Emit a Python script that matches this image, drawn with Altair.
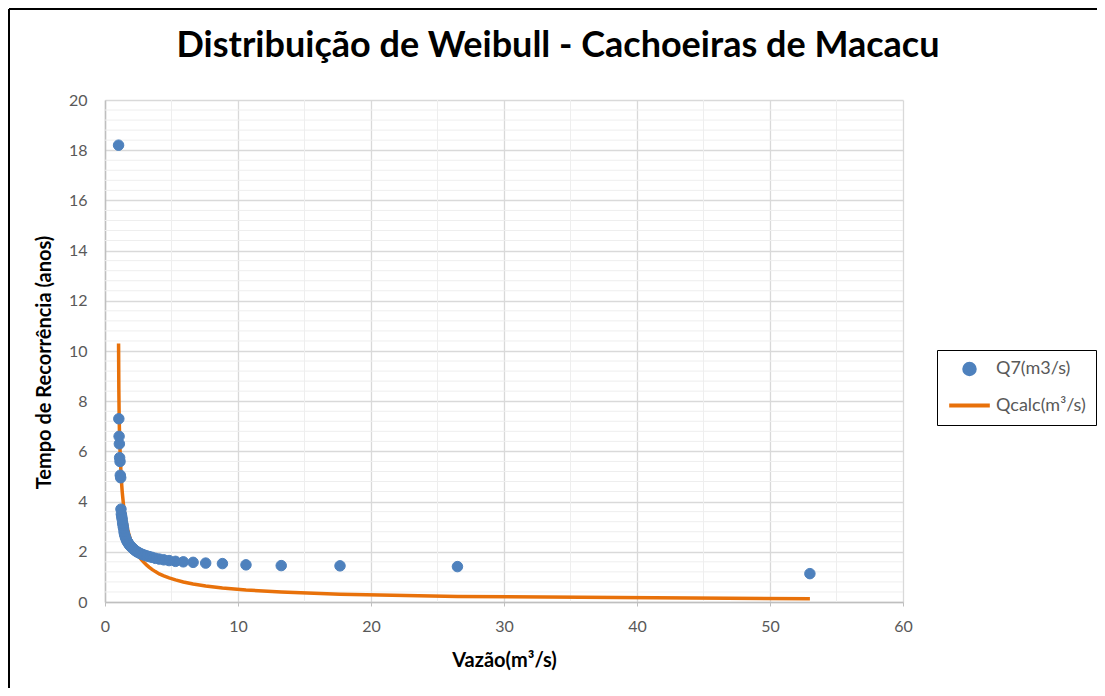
import altair as alt
import pandas as pd

# Tempo de recorrência (Weibull) and observed / calculated flows
T = [53.0, 26.5, 17.67, 13.25, 10.6, 8.83, 7.57, 6.625, 5.89, 5.3,
     4.82, 4.42, 4.08, 3.79, 3.53, 3.31, 3.12, 2.94, 2.79, 2.65,
     2.52, 2.41, 2.30, 2.21, 2.12, 2.04, 1.96, 1.89, 1.83, 1.77,
     1.71, 1.66, 1.61, 1.56, 1.51, 1.47, 1.43, 1.39, 1.36, 1.325,
     1.29, 1.26, 1.23, 1.20, 1.18, 1.15, 1.13, 1.10, 1.08, 1.06,
     1.04, 1.02]
Q7 = [1.13, 1.41, 1.44, 1.45, 1.48, 1.53, 1.55, 1.58, 1.60, 1.62,
      1.65, 1.68, 1.71, 1.74, 1.78, 1.81, 1.84, 1.87, 1.90, 1.93,
      1.97, 2.00, 2.04, 2.08, 2.12, 2.16, 2.20, 2.24, 2.28, 2.33,
      2.38, 2.42, 2.48, 2.55, 2.62, 2.70, 2.80, 2.95, 3.05, 3.15,
      3.30, 3.40, 3.50, 3.70, 4.95, 5.05, 5.60, 5.75, 6.30, 6.60,
      7.30, 18.2]
Qcalc = [0.13, 0.22, 0.31, 0.40, 0.48, 0.56, 0.64, 0.72, 0.80, 0.88,
         0.96, 1.04, 1.12, 1.21, 1.30, 1.39, 1.48, 1.57, 1.66, 1.75,
         1.84, 1.93, 2.02, 2.12, 2.22, 2.32, 2.42, 2.53, 2.64, 2.75,
         2.87, 3.00, 3.13, 3.26, 3.40, 3.55, 3.70, 3.87, 4.04, 4.22,
         4.42, 4.64, 4.87, 5.12, 5.40, 5.70, 6.05, 6.47, 6.97, 7.60,
         8.50, 10.3]

series_names = ["Q7(m3/s)", "Qcalc(m³/s)"]
blue = "#4e81bd"
orange = "#e8710a"

df_pts = pd.DataFrame({"T": T, "Q": Q7, "serie": series_names[0]})
df_line = pd.DataFrame({"T": T, "Q": Qcalc, "serie": series_names[1]})

FONT = "Lato"
W, H = 798, 502

xscale = alt.Scale(domain=[0, 60], nice=False)
yscale = alt.Scale(domain=[0, 20], nice=False)

# minor grid
minor_x = pd.DataFrame({"v": [5, 15, 25, 35, 45, 55]})
minor_y = pd.DataFrame({"v": [i * 0.4 for i in range(1, 50) if i % 5 != 0]})

grid_x = alt.Chart(minor_x).mark_rule(color="#eeeeee", strokeWidth=1).encode(
    x=alt.X("v:Q", scale=xscale))
grid_y = alt.Chart(minor_y).mark_rule(color="#eeeeee", strokeWidth=1).encode(
    y=alt.Y("v:Q", scale=yscale))

legend = alt.Legend(
    title=None, orient="none", legendX=832, legendY=250,
    strokeColor="#000000", padding=10, labelFont=FONT, labelFontSize=18,
    labelColor="#595959", rowPadding=0, symbolStrokeWidth=4, labelOffset=4,
)

color_scale = alt.Scale(domain=series_names, range=[blue, orange])

points = alt.Chart(df_pts).mark_point(filled=True, opacity=1, strokeWidth=1).encode(
    x=alt.X("T:Q", scale=xscale,
            axis=alt.Axis(title="Vazão(m³/s)", values=list(range(0, 61, 10)))),
    y=alt.Y("Q:Q", scale=yscale,
            axis=alt.Axis(title="Tempo de Recorrência (anos)", values=list(range(0, 21, 2)))),
    color=alt.Color("serie:N", scale=color_scale, legend=legend),
    stroke=alt.Stroke("serie:N", scale=color_scale, legend=legend),
    shape=alt.Shape("serie:N", scale=alt.Scale(domain=series_names, range=["circle", "stroke"]), legend=legend),
    size=alt.Size("serie:N", scale=alt.Scale(domain=series_names, range=[110, 1650]), legend=legend),
)

line = alt.Chart(df_line).mark_line(strokeWidth=3.5).encode(
    x=alt.X("T:Q", scale=xscale),
    y=alt.Y("Q:Q", scale=yscale),
    color=alt.Color("serie:N", scale=color_scale, legend=legend),
)

border_l = alt.Chart(pd.DataFrame({"a": [0]})).mark_rule(color="#000000", strokeWidth=2).encode(
    x=alt.value(-96), y=alt.value(-91), y2=alt.value(H + 200))
border_t = alt.Chart(pd.DataFrame({"a": [0]})).mark_rule(color="#000000", strokeWidth=2).encode(
    x=alt.value(-96), x2=alt.value(W + 300), y=alt.value(-91))

chart = alt.layer(grid_x, grid_y, line, points, border_l, border_t).properties(
    width=W, height=H,
    autosize=alt.AutoSizeParams(type="none"),
    padding={"left": 97, "top": 92, "right": 194, "bottom": 86},
    title=alt.Title("Distribuição de Weibull - Cachoeiras de Macacu",
                    font=FONT, fontSize=36, fontWeight="bold", color="#000000",
                    anchor="middle", frame="group", offset=-57, dx=54),
).configure_view(stroke=None).configure_axis(
    labelFont=FONT, labelFontSize=16, labelColor="#595959", labelFlush=False,
    titleFont=FONT, titleFontSize=20, titleFontWeight="bold", titleColor="#000000",
    gridColor="#d9d9d9", gridWidth=1.3, domainColor="#bfbfbf", domainWidth=1.5,
).configure_axisX(
    tickColor="#bfbfbf", tickSize=4, labelPadding=12, titlePadding=16,
).configure_axisY(
    ticks=False, labelPadding=18, titlePadding=14, titleY=262,
)

chart.save("out.html", embed_options={"renderer": "svg", "actions": False})
